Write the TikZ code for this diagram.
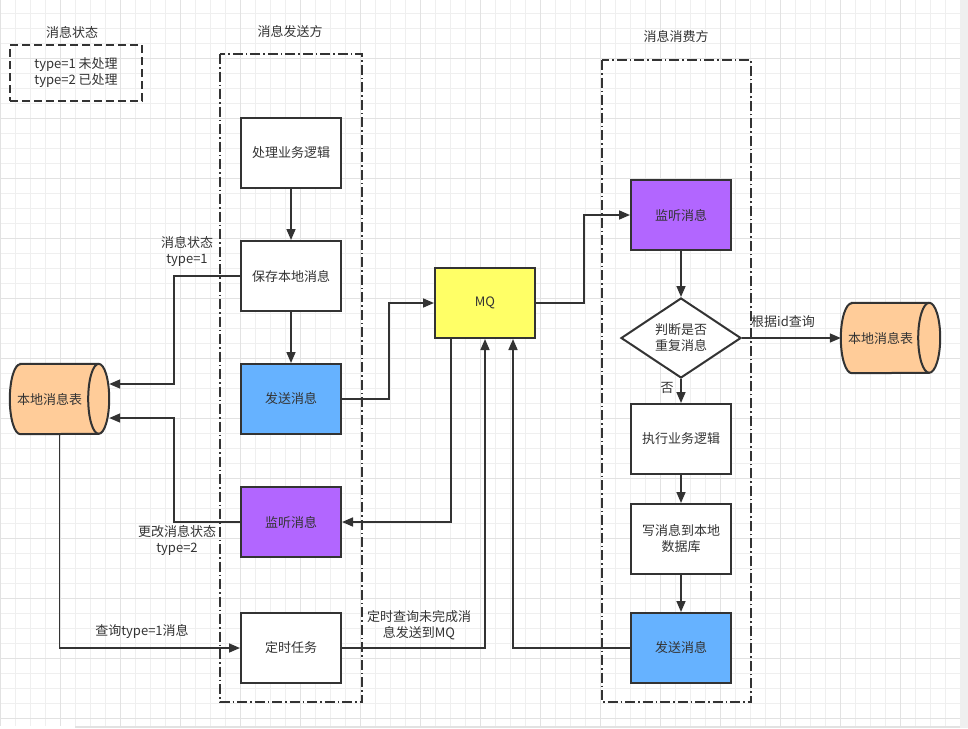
\documentclass[tikz,border=0pt]{standalone}
\usepackage{fontspec}
\setmainfont{Noto Sans CJK SC}
\usetikzlibrary{arrows.meta,shapes.geometric}
\definecolor{ink}{HTML}{333333}
\definecolor{gminor}{HTML}{EFEFEF}
\definecolor{gmajor}{HTML}{E2E2E2}
\definecolor{purp}{HTML}{B266FF}
\definecolor{bluef}{HTML}{66B2FF}
\definecolor{yell}{HTML}{FFFF66}
\definecolor{orng}{HTML}{FFCC99}
\begin{document}
\begin{tikzpicture}[x=1pt,y=-1pt,
  font=\fontsize{13}{16}\selectfont,
  every node/.style={text=ink},
  box/.style={draw=ink, line width=2pt, minimum width=100pt, minimum height=70pt, inner sep=0pt, align=center, fill=white},
  dbnode/.style={minimum width=99pt, minimum height=70pt, inner sep=0pt},
  cyl/.style={draw=ink, line width=2pt, fill=orng},
  conn/.style={draw=ink, line width=1.6pt, -{Triangle[length=11pt,width=9pt]}},
  plain/.style={draw=ink, line width=1.6pt},
  lbl/.style={align=center, inner sep=0pt},
  container/.style={draw=ink, line width=2pt, dash pattern=on 10pt off 3pt on 1.5pt off 3pt},
  legendbox/.style={draw=ink, line width=2pt, dash pattern=on 8pt off 4pt, minimum width=132pt, minimum height=56pt, align=center, inner sep=0pt}
]
\useasboundingbox (0,0) rectangle (968,728);
\fill[white] (0,0) rectangle (968,728);
% grid
\foreach \x in {0,15,...,960} \draw[gminor, line width=1pt] (\x,0) -- (\x,726);
\foreach \y in {13.3,28.3,...,720} \draw[gminor, line width=1pt] (0,\y) -- (960,\y);
\foreach \x in {0,60,...,960} \draw[gmajor, line width=1pt] (\x,0) -- (\x,726);
\foreach \y in {58.3,118.3,...,720} \draw[gmajor, line width=1pt] (0,\y) -- (960,\y);
\fill[gminor] (960,0) rectangle (968,728);
\fill[gmajor] (75,726) rectangle (960,728);

% titles
\node[lbl] (t0) at (72,32) {消息状态};
\node[lbl] (t1) at (290,32) {消息发送方};
\node[lbl] (t2) at (676,37) {消息消费方};

% legend
\node[legendbox] (legend) at (76,73) {type=1 未处理\\type=2 已处理};

% containers
\draw[container] (220,54) rectangle (362,702);
\draw[container] (602,60) rectangle (751,702);

% sender boxes
\node[box] (biz1) at (291,153) {处理业务逻辑};
\node[box] (save) at (291,276) {保存本地消息};
\node[box, fill=bluef] (send1) at (291,399) {发送消息};
\node[box, fill=purp] (listen1) at (291,522) {监听消息};
\node[box] (timer) at (291,648) {定时任务};

% MQ
\node[box, fill=yell] (mq) at (485,303) {MQ};

% consumer
\node[box, fill=purp] (listen2) at (681,215) {监听消息};
\node[draw=ink, line width=2pt, diamond, fill=white, minimum width=120pt, minimum height=80pt, inner sep=0pt, align=center] (judge) at (681,338) {判断是否\\重复消息};
\node[box] (exec) at (681,439) {执行业务逻辑};
\node[box] (write) at (681,539) {写消息到本地\\数据库};
\node[box, fill=bluef] (send2) at (681,648) {发送消息};

% cylinders
\node[dbnode] (db1) at (59.5,399) {};
\draw[cyl] ([xshift=10.5pt]db1.north west) -- ([xshift=-10.5pt]db1.north east)
  arc[start angle=90, end angle=-90, x radius=10.5pt, y radius=35pt]
  -- ([xshift=10.5pt]db1.south west)
  arc[start angle=270, end angle=90, x radius=10.5pt, y radius=35pt] -- cycle;
\draw[draw=ink, line width=2pt] ([xshift=-10.5pt]db1.north east)
  arc[start angle=90, end angle=270, x radius=10.5pt, y radius=35pt];
\node[lbl] at ([xshift=-10pt]db1.center) {本地消息表};

\node[dbnode] (db2) at (890.5,338) {};
\draw[cyl] ([xshift=11pt]db2.north west) -- ([xshift=-11pt]db2.north east)
  arc[start angle=90, end angle=-90, x radius=11pt, y radius=35pt]
  -- ([xshift=11pt]db2.south west)
  arc[start angle=270, end angle=90, x radius=11pt, y radius=35pt] -- cycle;
\draw[draw=ink, line width=2pt] ([xshift=-11pt]db2.north east)
  arc[start angle=90, end angle=270, x radius=11pt, y radius=35pt];
\node[lbl] at ([xshift=-10pt]db2.center) {本地消息表};

% connectors
\draw[conn] (biz1.south) -- (save.north);
\draw[conn] (save.south) -- (send1.north);
\draw[conn] (save.west) -- ++(-66,0) |- ([yshift=15pt]db1.east);
\draw[conn] (listen1.west) -- ++(-66,0) |- ([yshift=-19pt]db1.east);
\draw[conn] (db1.south) |- (timer.west);
\draw[conn] (timer.east) -| (mq.south);
\draw[conn] (send1.east) -- ++(47,0) |- (mq.west);
\draw[conn] ([xshift=-34pt]mq.south) |- (listen1.east);
\draw[conn] (mq.east) -- ++(48,0) |- (listen2.west);
\draw[conn] (listen2.south) -- (judge.north);
\draw[conn] (judge.east) -- (db2.west);
\draw[conn] (judge.south) -- (exec.north);
\draw[conn] (exec.south) -- (write.north);
\draw[conn] (write.south) -- (send2.north);
\draw[conn] (send2.west) -| ([xshift=28pt]mq.south);

% labels
\node[lbl] (l1) at (187,251) {消息状态\\type=1};
\node[lbl] (l2) at (177,540) {更改消息状态\\type=2};
\node[lbl] (l3) at (142,631) {查询type=1消息};
\node[lbl] (l4) at (419,625) {定时查询未完成消\\息发送到MQ};
\node[lbl] (l5) at (783,322) {根据id查询};
\node[lbl] (l6) at (667,388) {否};
\end{tikzpicture}
\end{document}
